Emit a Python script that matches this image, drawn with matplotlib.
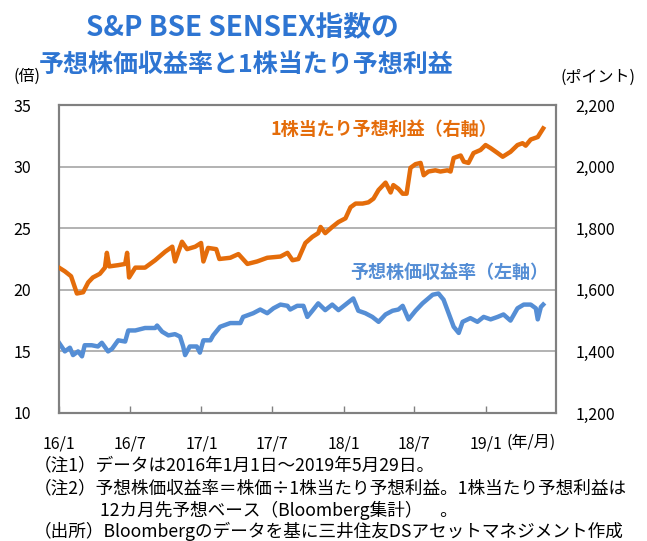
import matplotlib
matplotlib.use("Agg")
import matplotlib.pyplot as plt
import pandas as pd

plt.rcParams["font.family"] = ["Noto Sans CJK JP", "DejaVu Sans"]

# 1株当たり予想利益（右軸, ポイント）
eps_dates = [
    "2016-01-01", "2016-01-16", "2016-02-01", "2016-02-16", "2016-03-03", "2016-03-16",
    "2016-03-28", "2016-04-15", "2016-04-28", "2016-05-03", "2016-05-09", "2016-06-01",
    "2016-06-19", "2016-06-24", "2016-06-29", "2016-07-15", "2016-08-09", "2016-09-04",
    "2016-09-30", "2016-10-18", "2016-10-25", "2016-11-12", "2016-11-25", "2016-12-16",
    "2016-12-31", "2017-01-06", "2017-01-18", "2017-02-08", "2017-02-16", "2017-03-16",
    "2017-04-06", "2017-04-29", "2017-05-24", "2017-06-19", "2017-07-23", "2017-08-10",
    "2017-08-23", "2017-09-07", "2017-09-25", "2017-10-13", "2017-10-28", "2017-11-03",
    "2017-11-15", "2017-12-03", "2017-12-19", "2018-01-06", "2018-01-19", "2018-02-01",
    "2018-02-19", "2018-03-06", "2018-03-19", "2018-04-01", "2018-04-19", "2018-05-02",
    "2018-05-09", "2018-05-22", "2018-06-02", "2018-06-12", "2018-06-22", "2018-07-05",
    "2018-07-18", "2018-07-26", "2018-08-07", "2018-08-25", "2018-09-07", "2018-09-25",
    "2018-10-03", "2018-10-11", "2018-10-29", "2018-11-06", "2018-11-18", "2018-12-01",
    "2018-12-19", "2019-01-01", "2019-01-14", "2019-02-01", "2019-02-14", "2019-03-06",
    "2019-03-24", "2019-04-06", "2019-04-14", "2019-04-27", "2019-05-15", "2019-05-23",
    "2019-05-29",
]
eps_values = [
    1672, 1660, 1644, 1588, 1592, 1624,
    1640, 1652, 1672, 1720, 1676, 1680,
    1684, 1720, 1640, 1672, 1672, 1696,
    1724, 1740, 1692, 1756, 1732, 1740,
    1752, 1692, 1736, 1732, 1700, 1704,
    1716, 1684, 1692, 1704, 1708, 1720,
    1696, 1700, 1752, 1772, 1784, 1804,
    1784, 1804, 1820, 1832, 1868, 1880,
    1880, 1884, 1896, 1924, 1948, 1916,
    1940, 1928, 1912, 1912, 1996, 2008,
    2012, 1972, 1984, 1988, 1984, 1988,
    1984, 2028, 2036, 2016, 2012, 2044,
    2054, 2070, 2060, 2044, 2032, 2048,
    2070, 2076, 2068, 2088, 2096, 2112,
    2124,
]

# 予想株価収益率（左軸, 倍）
pe_dates = [
    "2016-01-01", "2016-01-16", "2016-01-29", "2016-02-06", "2016-02-19", "2016-02-29",
    "2016-03-07", "2016-03-25", "2016-04-10", "2016-04-20", "2016-05-06", "2016-05-16",
    "2016-06-01", "2016-06-19", "2016-06-27", "2016-07-15", "2016-08-09", "2016-09-04",
    "2016-09-09", "2016-09-22", "2016-10-08", "2016-10-25", "2016-11-07", "2016-11-15",
    "2016-11-20", "2016-12-02", "2016-12-20", "2016-12-28", "2017-01-06", "2017-01-24",
    "2017-01-31", "2017-02-18", "2017-03-16", "2017-04-11", "2017-04-18", "2017-05-14",
    "2017-06-01", "2017-06-19", "2017-07-05", "2017-07-23", "2017-08-10", "2017-08-17",
    "2017-09-04", "2017-09-20", "2017-09-30", "2017-10-13", "2017-10-28", "2017-11-15",
    "2017-12-03", "2017-12-19", "2018-01-06", "2018-01-26", "2018-02-08", "2018-02-26",
    "2018-03-16", "2018-04-01", "2018-04-19", "2018-05-07", "2018-05-22", "2018-06-02",
    "2018-06-17", "2018-07-05", "2018-07-23", "2018-08-18", "2018-09-02", "2018-09-15",
    "2018-09-28", "2018-10-11", "2018-10-24", "2018-11-03", "2018-11-23", "2018-12-11",
    "2018-12-27", "2019-01-14", "2019-02-01", "2019-02-16", "2019-03-06", "2019-03-24",
    "2019-04-09", "2019-04-27", "2019-05-10", "2019-05-15", "2019-05-23", "2019-05-29",
]
pe_values = [
    15.7, 15.0, 15.3, 14.7, 15.0, 14.6,
    15.5, 15.5, 15.4, 15.7, 15.0, 15.2,
    15.9, 15.8, 16.7, 16.7, 16.9, 16.9,
    17.1, 16.6, 16.3, 16.4, 16.2, 15.4,
    14.7, 15.4, 15.4, 14.9, 15.9, 15.9,
    16.3, 17.0, 17.3, 17.3, 17.8, 18.1,
    18.4, 18.1, 18.5, 18.8, 18.7, 18.4,
    18.7, 18.7, 17.8, 18.3, 18.9, 18.35,
    18.8, 18.35, 18.8, 19.3, 18.3, 18.1,
    17.8, 17.4, 18.0, 18.3, 18.4, 18.7,
    17.6, 18.3, 18.9, 19.6, 19.7, 19.2,
    18.1, 17.0, 16.5, 17.4, 17.7, 17.4,
    17.8, 17.6, 17.8, 18.0, 17.5, 18.5,
    18.8, 18.8, 18.5, 17.6, 18.6, 18.8,
]

tick_dates = ["2016-01-01", "2016-07-01", "2017-01-01", "2017-07-01",
              "2018-01-01", "2018-07-01", "2019-01-01"]
tick_labels = ["16/1", "16/7", "17/1", "17/7", "18/1", "18/7", "19/1"]
left_ticks = [10, 15, 20, 25, 30, 35]
right_ticks = [1200, 1400, 1600, 1800, 2000, 2200]

ORANGE = "#E46C0A"
BLUE = "#558ED5"
TITLE_BLUE = "#2E75D2"
GRID = "#A6A6A6"
SPINE = "#808080"

fig = plt.figure(figsize=(6.47, 5.41), dpi=100)
ax = fig.add_axes([0.0912, 0.2366, 0.7682, 0.5693])
ax2 = ax.twinx()

ax.plot(pd.to_datetime(pe_dates), pe_values, color=BLUE, lw=3.2, zorder=3)
ax2.plot(pd.to_datetime(eps_dates), eps_values, color=ORANGE, lw=3.2, zorder=3)

ax.set_xlim(pd.Timestamp("2016-01-01"), pd.Timestamp("2019-07-01"))
ax.set_ylim(10, 35)
ax2.set_ylim(1200, 2200)

ax.set_yticks(left_ticks)
ax.set_yticklabels([str(v) for v in left_ticks])
ax2.set_yticks(right_ticks)
ax2.set_yticklabels([f"{v:,}" for v in right_ticks])
ax.set_xticks(pd.to_datetime(tick_dates))
ax.set_xticklabels(tick_labels)

ax.grid(axis="y", color=GRID, lw=1.2)
ax.set_axisbelow(True)
ax.tick_params(axis="y", length=0, pad=20, labelsize=11.5)
ax2.tick_params(axis="y", length=0, pad=14, labelsize=11.5)
ax.tick_params(axis="x", direction="in", length=5, color=SPINE, width=1,
               pad=16, labelsize=11.5)
for a in (ax, ax2):
    for s in a.spines.values():
        s.set_color(SPINE)
        s.set_linewidth(1.5)

ax.annotate("(年/月)", xy=(pd.Timestamp("2019-01-01"), 10), xytext=(15, -15),
            textcoords="offset points", ha="left", va="top", fontsize=11.5)

ax.text(0.425, 0.92, "1株当たり予想利益（右軸）", transform=ax.transAxes,
        ha="left", va="center", color=ORANGE, fontsize=13, fontweight="bold")
ax.text(0.985, 0.456, "予想株価収益率（左軸）", transform=ax.transAxes,
        ha="right", va="center", color=BLUE, fontsize=13, fontweight="bold")

fig.text(0.374, 0.948, "S&P BSE SENSEX指数の", ha="center", va="center",
         color=TITLE_BLUE, fontsize=20, fontweight="bold")
fig.text(0.38, 0.88, "予想株価収益率と1株当たり予想利益", ha="center", va="center",
         color=TITLE_BLUE, fontsize=18, fontweight="bold")
fig.text(0.042, 0.858, "(倍)", ha="center", va="center", fontsize=11.5)
fig.text(0.924, 0.857, "(ポイント)", ha="center", va="center", fontsize=11.5)

notes = [
    (0.052, 0.139, "（注1）データは2016年1月1日～2019年5月29日。"),
    (0.052, 0.098, "（注2）予想株価収益率＝株価÷1株当たり予想利益。1株当たり予想利益は"),
    (0.155, 0.057, "12カ月先予想ベース（Bloomberg集計）　。"),
    (0.052, 0.018, "（出所）Bloombergのデータを基に三井住友DSアセットマネジメント作成"),
]
for x, y, s in notes:
    fig.text(x, y, s, ha="left", va="center", fontsize=12.7)

fig.savefig("out.png", dpi=100)
